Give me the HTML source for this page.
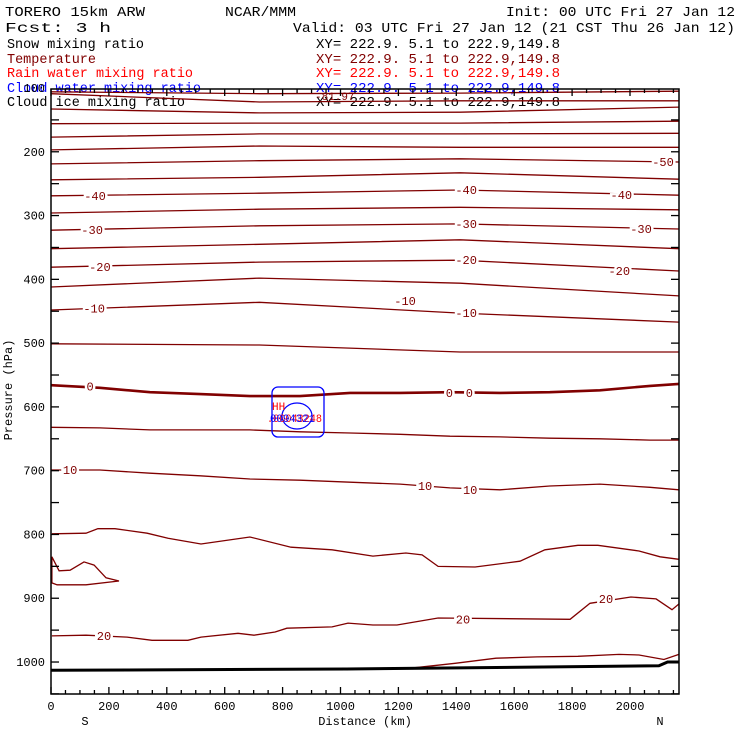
<!DOCTYPE html>
<html><head><meta charset="utf-8">
<style>
html,body{margin:0;padding:0;background:#fff;}
svg{display:block;font-family:"Liberation Mono",monospace;}
</style></head>
<body>
<svg id="chart" width="740" height="740" viewBox="0 0 740 740" xmlns="http://www.w3.org/2000/svg" xml:space="preserve">
  <g font-size="14">
    <text x="5" y="16" textLength="140" lengthAdjust="spacingAndGlyphs">TORERO  15km ARW</text>
    <text x="225" y="16" textLength="71" lengthAdjust="spacingAndGlyphs">NCAR/MMM</text>
    <text x="506" y="16" textLength="229" lengthAdjust="spacingAndGlyphs">Init: 00 UTC Fri 27 Jan 12</text>
    <text x="5" y="32" textLength="106" lengthAdjust="spacingAndGlyphs">Fcst:    3 h</text>
    <text x="293" y="32" textLength="442" lengthAdjust="spacingAndGlyphs">Valid: 03 UTC Fri 27 Jan 12 (21 CST Thu 26 Jan 12)</text>
  </g>
  <g font-size="13.5">
    <text x="7" y="48" textLength="137" lengthAdjust="spacingAndGlyphs" fill="#000">Snow mixing ratio</text>
    <text x="316" y="48" textLength="244" lengthAdjust="spacingAndGlyphs" fill="#000">XY= 222.9.  5.1 to 222.9,149.8</text>
    <text x="7" y="63" textLength="89" lengthAdjust="spacingAndGlyphs" fill="#800000">Temperature</text>
    <text x="316" y="63" textLength="244" lengthAdjust="spacingAndGlyphs" fill="#800000">XY= 222.9.  5.1 to 222.9,149.8</text>
    <text x="7" y="77" textLength="186" lengthAdjust="spacingAndGlyphs" fill="#ff0000">Rain water mixing ratio</text>
    <text x="316" y="77" textLength="244" lengthAdjust="spacingAndGlyphs" fill="#ff0000">XY= 222.9.  5.1 to 222.9,149.8</text>
    <text x="7" y="92" textLength="194" lengthAdjust="spacingAndGlyphs" fill="#0000ff">Cloud water mixing ratio</text>
    <text x="316" y="92" textLength="244" lengthAdjust="spacingAndGlyphs" fill="#0000ff">XY= 222.9.  5.1 to 222.9,149.8</text>
    <text x="7" y="106" textLength="178" lengthAdjust="spacingAndGlyphs" fill="#000">Cloud ice mixing ratio</text>
    <text x="316" y="106" textLength="244" lengthAdjust="spacingAndGlyphs" fill="#000">XY= 222.9.  5.1 to 222.9,149.8</text>
  </g>
  <g id="plot"></g>
  <g id="axes" font-size="12"></g>
  <text x="12" y="390" font-size="12" text-anchor="middle" transform="rotate(-90 12 390)">Pressure (hPa)</text>
  <text x="365" y="725" font-size="12" text-anchor="middle">Distance (km)</text>
  <text x="85" y="725" font-size="12" text-anchor="middle">S</text>
  <text x="660" y="725" font-size="12" text-anchor="middle">N</text>
</svg>
<script>
// ---- data ----
const xTicks = [0,200,400,600,800,1000,1200,1400,1600,1800,2000];
const yTicks = [100,200,300,400,500,600,700,800,900,1000];
const upperDist = [0,720,1413,2169];
const upperLevels = [-80,-75,-70,-65,-60,-55,-50,-45,-40,-35,-30,-25,-20,-15,-10,-5];
const upperPres = [
  [106,109,108,105],
  [109,122,120,120],
  [133,139,138,130],
  [156,155,155,152],
  [177,172,172,171],
  [197,191,193,193],
  [219,214,211,216],
  [244,240,233,243],
  [269,265,260,268],
  [296,290,287,291],
  [323,316,313,321],
  [352,345,338,352],
  [381,373,370,387],
  [412,398,406,426],
  [448,436,453,467],
  [501,503,514,514]
];
const midDist = [0,169,342,515,687,860,1033,1206,1378,1551,1723,1896,2069,2169];
const zeroPres = [566,570,577,580,583,583,578,578,577,578,577,574,567,564];
const fivePres = [632,633,636,636,636,639,641,643,646,647,649,650,652,652];
const tenPres = [699,699,704,708,713,715,718,721,727,730,724,721,726,730];
const fifteenDist = [3,121,162,221,332,404,518,687,829,971,1112,1226,1282,1337,1465,1620,1706,1820,1889,2031,2104,2169];
const fifteenPres = [799,798,791,791,798,806,815,804,820,824,834,829,832,850,851,842,824,817,817,826,835,839];
const loopDist = [3,28,66,114,149,190,235,121,21,3];
const loopPres = [835,857,856,843,848,868,873,879,879,876];
const twentyDist = [3,121,263,349,473,518,646,701,774,815,971,1026,1112,1195,1337,1793,1862,2003,2090,2145,2169];
const twentyPres = [959,958,961,966,966,961,955,958,953,947,945,939,942,942,931,933,908,898,901,918,909];
const twentyFiveDist = [1254,1396,1537,1679,1820,1962,2031,2117,2169];
const twentyFivePres = [1009,1002,994,992,991,988,989,996,988];
const groundDist = [0,1020,2100,2130,2169];
const groundPres = [1013,1011,1006,1000,1000];
const labelText = ['-50','-40','-40','-40','-30','-30','-30','-20','-20','-20','-10','-10','-10','0','0','0','10','10','10','20','20','20'];
const labelDist = [2114,152,1434,1970,142,1434,2038,169,1434,1963,149,1223,1434,135,1376,1445,66,1292,1448,183,1423,1917];
const labelPres = [216,269,260,268,323,313,321,381,370,387,446,434,453,568,578,578,699,724,730,959,933,901];

// ---- scales ----
const X0=51, X1=679, Y0=89, Y1=694;
function xs(d){ return 51 + d*0.2895; }
function ys(p){ return 88 + (p-100)*0.6378; }
const NS='http://www.w3.org/2000/svg';
const plot=document.getElementById('plot'), axes=document.getElementById('axes');
function mk(tag, parent){ const e=document.createElementNS(NS,tag); parent.appendChild(e); return e; }
function pathOf(ds, ps, close){
  let s=''; for(let i=0;i<ds.length;i++){ s+=(i?'L':'M')+xs(ds[i]).toFixed(1)+','+ys(ps[i]).toFixed(1); }
  return s+(close?'Z':'');
}
function line(ds, ps, color, w, name, close){
  const e=mk('path',plot);
  e.setAttribute('d',pathOf(ds,ps,close));
  e.setAttribute('fill','none'); e.setAttribute('stroke',color); e.setAttribute('stroke-width',w);
  
  
}
const DR='#800000';
upperPres.forEach((ps,i)=>{ line(upperDist, ps, DR, 1.3, 'isotherm-'+upperLevels[i], false); });
line(midDist, zeroPres, DR, 2.6, 'isotherm-0', false);
line(midDist, fivePres, DR, 1.3, 'isotherm-5', false);
line(midDist, tenPres, DR, 1.3, 'isotherm-10', false);
line(fifteenDist, fifteenPres, DR, 1.3, 'isotherm-15', false);
line(loopDist, loopPres, DR, 1.3, 'isotherm-15-loop', true);
line(twentyDist, twentyPres, DR, 1.3, 'isotherm-20', false);
line(twentyFiveDist, twentyFivePres, DR, 1.3, 'isotherm-25', false);
line(groundDist, groundPres, '#000', 3, 'ground-surface', false);

labelText.forEach((t,i)=>{
  const e=mk('text',plot);
  e.setAttribute('x',xs(labelDist[i])); e.setAttribute('y',ys(labelPres[i])+4);
  e.setAttribute('text-anchor','middle'); e.setAttribute('font-size','12');
  e.setAttribute('fill',DR); e.setAttribute('stroke','#fff'); e.setAttribute('stroke-width','5');
  e.setAttribute('paint-order','stroke');
  e.textContent=t;
  
  
});

// cloud water contour & labels
(function(){
  const g=mk('g',plot);
  
  
  const r=mk('rect',g); r.setAttribute('x',272); r.setAttribute('y',387); r.setAttribute('width',52); r.setAttribute('height',50);
  r.setAttribute('rx',6); r.setAttribute('fill','none'); r.setAttribute('stroke','#0000ff'); r.setAttribute('stroke-width','1.3');
  const el=mk('ellipse',g); el.setAttribute('cx',297); el.setAttribute('cy',416); el.setAttribute('rx',15); el.setAttribute('ry',13);
  el.setAttribute('fill','none'); el.setAttribute('stroke','#0000ff'); el.setAttribute('stroke-width','1.2');
  const h=mk('text',g); h.setAttribute('x',272); h.setAttribute('y',410); h.setAttribute('font-size','11'); h.setAttribute('fill','#ff0000'); h.textContent='HH';
  const a=mk('text',g); a.setAttribute('x',267); a.setAttribute('y',422); a.setAttribute('font-size','11'); a.setAttribute('fill','#ff0000');
  a.setAttribute('textLength','55'); a.setAttribute('lengthAdjust','spacingAndGlyphs'); a.textContent='.00043248';
  const b=mk('text',g); b.setAttribute('x',270); b.setAttribute('y',422); b.setAttribute('font-size','11'); b.setAttribute('fill','#0000ff');
  b.setAttribute('textLength','45'); b.setAttribute('lengthAdjust','spacingAndGlyphs'); b.textContent='0094321';
  const m=mk('text',g); m.setAttribute('x',315); m.setAttribute('y',100); m.setAttribute('font-size','11'); m.setAttribute('fill',DR); m.textContent='-81.97';
})();

// axes frame
const fr=mk('rect',axes);
fr.setAttribute('x',X0); fr.setAttribute('y',Y0); fr.setAttribute('width',X1-X0); fr.setAttribute('height',Y1-Y0);
fr.setAttribute('fill','none'); fr.setAttribute('stroke','#000'); fr.setAttribute('stroke-width','1.5');


function tick(x1,y1,x2,y2){
  const t=mk('line',axes); t.setAttribute('x1',x1); t.setAttribute('y1',y1); t.setAttribute('x2',x2); t.setAttribute('y2',y2);
  t.setAttribute('stroke','#000'); t.setAttribute('stroke-width','1.3');
  
  
}
for(let d=0; d<=2150; d+=50){
  const x=xs(d), major=(d%200===0), L=major?7:4;
  tick(x,Y1,x,Y1-L); tick(x,Y0,x,Y0+L);
}
for(let p=150; p<=1050; p+=50){
  const y=ys(p); tick(X0,y,X0+8,y); tick(X1,y,X1-8,y);
}
xTicks.forEach(d=>{
  const t=mk('text',axes); t.setAttribute('x',xs(d)); t.setAttribute('y',710); t.setAttribute('text-anchor','middle');
  t.textContent=d;
  
  
});
yTicks.forEach(p=>{
  const t=mk('text',axes); t.setAttribute('x',45); t.setAttribute('y',ys(p)+4); t.setAttribute('text-anchor','end');
  t.textContent=p;
  
  
});
</script>
</body></html>
